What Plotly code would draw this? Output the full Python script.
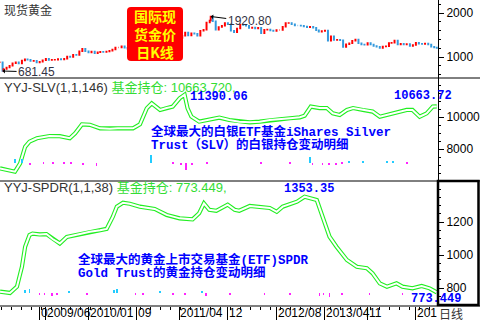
import plotly.graph_objects as go

# ---------------- data ----------------
gold_dates = ["2008-10-16","2008-10-27","2008-11-01","2008-11-16","2008-12-01","2008-12-16",
"2009-01-01","2009-01-16","2009-02-01","2009-02-16","2009-03-01","2009-03-16","2009-04-01","2009-04-16",
"2009-05-01","2009-05-16","2009-06-01","2009-06-16","2009-07-01","2009-07-16","2009-08-01","2009-08-16",
"2009-09-01","2009-09-16","2009-10-01","2009-10-16","2009-11-01","2009-11-16","2009-12-01","2009-12-16",
"2010-01-01","2010-01-16","2010-02-01","2010-02-16","2010-03-01","2010-03-16","2010-04-01","2010-04-16",
"2010-05-01","2010-05-16","2010-06-01","2010-06-16","2010-07-01","2010-07-16","2010-08-01","2010-08-16",
"2010-09-01","2010-09-16","2010-10-01","2010-10-16","2010-11-01","2010-11-16","2010-12-01","2010-12-16",
"2011-01-01","2011-01-16","2011-02-01","2011-02-16","2011-03-01","2011-03-16","2011-04-01","2011-04-16",
"2011-05-01","2011-05-16","2011-06-01","2011-06-16","2011-07-01","2011-07-16","2011-08-01","2011-08-16",
"2011-09-01","2011-09-06","2011-09-16","2011-10-01","2011-10-16","2011-11-01","2011-11-16","2011-12-01","2011-12-16",
"2012-01-01","2012-01-16","2012-02-01","2012-02-16","2012-03-01","2012-03-16","2012-04-01","2012-04-16",
"2012-05-01","2012-05-16","2012-06-01","2012-06-16","2012-07-01","2012-07-16","2012-08-01","2012-08-16",
"2012-09-01","2012-09-16","2012-10-01","2012-10-16","2012-11-01","2012-11-16","2012-12-01","2012-12-16",
"2013-01-01","2013-01-16","2013-02-01","2013-02-16","2013-03-01","2013-03-16","2013-04-01","2013-04-16",
"2013-05-01","2013-05-16","2013-06-01","2013-06-16","2013-07-01","2013-07-16","2013-08-01","2013-08-16",
"2013-09-01","2013-09-16","2013-10-01","2013-10-16","2013-11-01","2013-11-16","2013-12-01","2013-12-16",
"2014-01-01","2014-01-16","2014-02-01","2014-02-16","2014-03-01","2014-03-16","2014-04-01","2014-04-16",
"2014-05-01","2014-05-16","2014-06-01","2014-06-16","2014-07-01","2014-07-16","2014-08-01","2014-08-16",
"2014-09-01","2014-09-16","2014-10-01","2014-10-14"]
gold_close = [880,681.45,730,760,800,860,
880,850,920,950,935,910,915,875,
890,925,960,930,935,940,955,945,
960,1010,1000,1050,1045,1130,1190,1130,
1100,1125,1085,1110,1120,1115,1125,1140,
1170,1215,1215,1245,1210,1190,1180,1225,
1250,1275,1315,1370,1355,1340,1390,1375,
1420,1365,1340,1375,1435,1395,1430,1485,
1555,1490,1540,1530,1485,1595,1620,1785,
1830,1920.80,1810,1620,1680,1710,1775,1745,1595,
1565,1650,1740,1725,1710,1660,1670,1650,
1665,1540,1620,1625,1600,1590,1615,1615,
1690,1770,1775,1745,1715,1715,1710,1695,
1675,1685,1665,1610,1575,1590,1600,1370,
1470,1385,1390,1380,1230,1290,1310,1370,
1395,1315,1285,1280,1320,1285,1250,1235,
1205,1240,1245,1320,1325,1375,1285,1300,
1285,1295,1250,1275,1325,1300,1295,1305,
1285,1235,1215,1205]

slv_dates = ["2008-10-14","2008-11-23","2008-12-28","2009-01-23","2009-02-17","2009-03-11","2009-04-17",
"2009-06-20","2009-08-10","2009-09-29","2009-10-26","2009-11-29","2010-01-08","2010-02-28","2010-04-18",
"2010-05-27","2010-08-12","2010-09-16","2010-10-20","2010-11-14","2010-12-26","2011-01-28","2011-02-27",
"2011-04-03","2011-04-28","2011-05-13","2011-06-01","2011-07-10","2011-08-30","2011-10-19","2011-12-08",
"2012-01-27","2012-03-20","2012-05-08","2012-06-28","2012-08-17","2012-10-08","2012-11-26","2012-12-20",
"2013-01-20","2013-03-05","2013-04-10","2013-05-10","2013-06-14","2013-07-20","2013-08-20","2013-10-08",
"2013-11-26","2014-01-01","2014-02-06","2014-03-26","2014-05-16","2014-06-14","2014-07-20","2014-08-24",
"2014-09-24","2014-10-14"]
slv_vals = [6790,6700,6580,7100,8140,8460,8670,
8810,8800,8670,8980,9540,9510,9290,9260,
9290,9290,9540,10540,10850,10440,10560,10650,
11170,11390.06,10540,10020,9710,9850,9960,9810,
9710,9670,9710,9810,9850,9920,9980,10080,
10650,10560,10560,10230,10125,10440,10560,10440,
10340,10020,10125,10270,10440,10440,10020,10230,
10650,10663.72]

spdr_dates = ["2008-10-14","2008-12-03","2009-01-07","2009-02-01","2009-02-17","2009-03-11","2009-03-26",
"2009-05-01","2009-06-04","2009-07-05","2009-08-10","2009-09-14","2009-11-19","2010-01-08","2010-02-28",
"2010-04-02","2010-05-03","2010-05-23","2010-06-23","2010-07-27","2010-09-16","2010-11-29","2011-01-28",
"2011-04-03","2011-06-07","2011-07-10","2011-08-03","2011-08-30","2011-10-04","2011-11-30","2012-01-04",
"2012-01-27","2012-03-20","2012-05-08","2012-06-28","2012-08-02","2012-09-01","2012-11-12","2012-12-20",
"2013-02-19","2013-03-20","2013-04-24","2013-05-29","2013-07-20","2013-09-08","2013-10-28","2013-11-26",
"2014-01-01","2014-02-06","2014-03-26","2014-04-25","2014-06-14","2014-07-30","2014-09-08","2014-10-14"]
spdr_vals = [778,770,808,929,1050,1121,1130,
1125,1127,1097,1070,1109,1127,1141,1150,
1158,1232,1293,1317,1311,1293,1279,1243,
1222,1216,1253,1313,1274,1268,1305,1274,
1268,1297,1290,1285,1262,1293,1323,1353.35,
1333,1232,1111,1050,970,929,920,889,
828,808,828,808,798,812,798,773.449]

slv_chg_dates = ["2008-12-28","2009-02-01","2009-03-15","2009-05-20","2009-07-05","2009-09-01","2009-10-05",
"2009-12-05","2010-02-10","2010-11-12","2011-02-27","2011-04-10","2011-05-05","2011-06-05","2011-08-20",
"2012-05-15","2012-10-08","2013-01-15","2013-01-28","2013-03-20","2013-04-20","2013-05-25","2013-06-25",
"2013-07-30","2013-10-08","2014-02-06","2014-03-10","2014-05-16"]
slv_chg = [150,120,-90,-60,-60,-60,-60,
-80,-120,300,-60,-80,-280,-90,-60,
-60,-60,200,-80,-80,-100,-80,-60,
60,60,60,60,-60]

spdr_chg_dates = ["2009-02-17","2009-03-11","2009-04-30","2009-05-25","2009-06-30","2009-07-25","2009-09-25",
"2009-12-25","2010-05-08","2010-05-23","2010-08-25","2010-09-30","2010-12-26","2011-03-01","2011-04-28",
"2011-07-25","2011-08-15","2011-12-10","2012-06-02","2012-10-08","2013-03-05","2013-03-25","2013-04-24",
"2013-06-25","2013-11-10","2014-04-25"]
spdr_chg = [15,20,-10,-10,-15,-10,10,
-10,15,20,-10,-10,10,-10,-10,
10,-15,-10,-10,-10,-15,-10,-20,
-10,-10,-10]

x_tick_dates = ["2009-05-01","2009-06-01","2010-01-01","2010-09-01","2011-04-01","2011-12-01",
                "2012-08-01","2013-04-01","2013-11-01","2014-07-01"]
x_tick_text = ["0","2009/06","2010/01","09","2011/04","12","2012/08","2013/04","11","201"]
gold_ticks = [1000, 2000]
slv_ticks = [8000, 10000]
spdr_ticks = [800, 1000, 1200]

# ---------------- derived OHLC ----------------
gold_open = [gold_close[0]] + gold_close[:-1]
gold_high = [max(o, c) for o, c in zip(gold_open, gold_close)]
gold_low = [min(o, c) for o, c in zip(gold_open, gold_close)]

# ---------------- layout helpers ----------------
W, H = 480, 320
MR, MB = 42, 14
PW, PH = W - MR, H - MB
def px(x): return x / PW
def py(y): return (PH - y) / PH
DAY = 86400000

SANS = "Liberation Sans, Arial, Noto Sans CJK SC, sans-serif"
CJK = "Noto Sans CJK SC, sans-serif"
MONO = "Liberation Mono, Noto Sans CJK SC, monospace"
BLUE = "#0000ff"
GREEN_L = "#22ee22"
GREEN_T = "#33dd33"
GRAY = "#333333"

fig = go.Figure()
fig.add_trace(go.Candlestick(
    x=gold_dates, open=gold_open, high=gold_high, low=gold_low, close=gold_close,
    xaxis="x", yaxis="y", whiskerwidth=0,
    increasing=dict(line=dict(color="#ff0000", width=1.5), fillcolor="#ff0000"),
    decreasing=dict(line=dict(color="#3399dd", width=1.5), fillcolor="#3399dd"),
    hoverinfo="skip"))

for xs, ys, ya in [(slv_dates, slv_vals, "y2"), (spdr_dates, spdr_vals, "y3")]:
    fig.add_trace(go.Scatter(x=xs, y=ys, xaxis="x", yaxis=ya, mode="lines",
                             line=dict(color=GREEN_L, width=4.2), hoverinfo="skip"))
    fig.add_trace(go.Scatter(x=xs, y=ys, xaxis="x", yaxis=ya, mode="lines",
                             line=dict(color="white", width=2), hoverinfo="skip"))

for xs, ys, ya in [(slv_chg_dates, slv_chg, "y4"), (spdr_chg_dates, spdr_chg, "y5")]:
    fig.add_trace(go.Bar(x=xs, y=ys, xaxis="x", yaxis=ya, width=[4 * DAY] * len(xs),
                         marker=dict(color=["#22ccff" if v > 0 else "#ff22ff" for v in ys],
                                     line=dict(width=0)), hoverinfo="skip"))

yax = dict(side="right", anchor="x", showgrid=False, zeroline=False, showline=True,
           linecolor="black", linewidth=1, ticks="outside", ticklen=5, tickcolor="black",
           tickfont=dict(family=SANS, size=12, color="black"), tickmode="array")

fig.update_layout(
    width=W, height=H, margin=dict(l=0, r=MR, t=0, b=MB),
    paper_bgcolor="white", plot_bgcolor="white", showlegend=False, bargap=0,
    xaxis=dict(domain=[0, 1], anchor="y3", type="date", range=["2008-10-14", "2014-10-20"],
               showgrid=False, zeroline=False, showline=False, showticklabels=False,
               tickmode="array", tickvals=x_tick_dates, ticks="outside", ticklen=14,
               tickcolor="black", tickwidth=1,
               minor=dict(ticks="outside", ticklen=3, tickcolor="black", tickmode="linear",
                          tick0="2008-10-20", dtick=50 * DAY),
               rangeslider=dict(visible=False)),
    yaxis=dict(yax, domain=[py(78), 1], range=[522.7, 2295.5], tickvals=gold_ticks,
               ticktext=[str(v) for v in gold_ticks],
               minor=dict(ticks="outside", ticklen=2, tickcolor="black", dtick=200)),
    yaxis2=dict(yax, domain=[py(181), py(78)], range=[6000, 12437.5], tickvals=slv_ticks,
                ticktext=[str(v) for v in slv_ticks],
                minor=dict(ticks="outside", ticklen=2, tickcolor="black", dtick=500)),
    yaxis3=dict(yax, domain=[0, py(181)], range=[690.9, 1448.5], tickvals=spdr_ticks,
                ticktext=[str(v) for v in spdr_ticks],
                minor=dict(ticks="outside", ticklen=2, tickcolor="black", dtick=50)),
    yaxis4=dict(overlaying="y2", anchor="x", range=[-694, 3169], visible=False),
    yaxis5=dict(overlaying="y3", anchor="x", range=[-65, 560], visible=False),
)

# separators, frame, red label box
r = 4
x0, x1, y0, y1 = 127, 183, 7, 61
box_path = (f"M {px(x0+r)} {py(y0)} L {px(x1-r)} {py(y0)} Q {px(x1)} {py(y0)} {px(x1)} {py(y0+r)} "
            f"L {px(x1)} {py(y1-r)} Q {px(x1)} {py(y1)} {px(x1-r)} {py(y1)} "
            f"L {px(x0+r)} {py(y1)} Q {px(x0)} {py(y1)} {px(x0)} {py(y1-r)} "
            f"L {px(x0)} {py(y0+r)} Q {px(x0)} {py(y0)} {px(x0+r)} {py(y0)} Z")
shapes = [
    dict(type="line", xref="paper", yref="paper", x0=0, x1=px(480), y0=py(78), y1=py(78),
         line=dict(color="black", width=1)),
    dict(type="line", xref="paper", yref="paper", x0=0, x1=px(480), y0=py(181), y1=py(181),
         line=dict(color="black", width=1)),
    dict(type="line", xref="paper", yref="paper", x0=0, x1=px(480), y0=py(306), y1=py(306),
         line=dict(color="black", width=1)),
    dict(type="rect", xref="paper", yref="paper", x0=px(438), x1=px(478.5), y0=py(305), y1=py(181),
         line=dict(color="black", width=2.5)),
    dict(type="path", xref="paper", yref="paper", path=box_path, fillcolor="#ff0000",
         line=dict(color="#ff0000", width=0), layer="above"),
]
fig.update_layout(shapes=shapes)

ann = []
def txt(x, y, s, font, xanchor="left", **kw):
    ann.append(dict(x=px(x), y=py(y), xref="paper", yref="paper", text=s, showarrow=False,
                    xanchor=xanchor, yanchor="middle", font=font, **kw))

txt(2, 9, "现货黄金", dict(family=CJK, size=12, color=GRAY))
txt(2, 87, f"YYJ-SLV(1,1,146) <span style='color:{GREEN_T}'>基金持仓: {slv_vals[-1]:.3f},</span>",
    dict(family=SANS, size=13, color=GRAY))
txt(2, 187, f"YYJ-SPDR(1,1,38) <span style='color:{GREEN_T}'>基金持仓: {spdr_vals[-1]:.3f},</span>",
    dict(family=SANS, size=13, color=GRAY))
txt(155, 34, "<b>国际现<br>货金价<br>日K线</b>", dict(family=CJK, size=14, color="#ffff00"),
    xanchor="center", borderpad=0)

bf = dict(family=MONO, size=12.5, color=BLUE)
txt(150, 132, "<b>全球最大的白银ETF基金iShares Silver</b>", bf, borderpad=0)
txt(150, 144.5, "<b>Trust（SLV）的白银持仓变动明细</b>", bf, borderpad=0)
txt(77, 260.3, "<b>全球最大的黄金上市交易基金(ETF)SPDR</b>", bf, borderpad=0)
txt(77, 272.8, "<b>Gold Trust的黄金持仓变动明细</b>", bf, borderpad=0)
txt(451, 313, "日线", dict(family=CJK, size=12, color=GRAY), xanchor="center", borderpad=0)

for d, s in zip(x_tick_dates, x_tick_text):
    ann.append(dict(x=d, y=py(312.5), xref="x", yref="paper", text=s, showarrow=False,
                    xanchor="left", yanchor="middle", borderpad=0,
                    font=dict(family=SANS, size=12, color="black")))

# extreme value labels
gmin = min(range(len(gold_close)), key=lambda i: gold_close[i])
gmax = max(range(len(gold_close)), key=lambda i: gold_close[i])
af = dict(family=SANS, size=12, color="#333344")
ann.append(dict(x=gold_dates[gmin], y=gold_close[gmin], xref="x", yref="y",
                text=f"{gold_close[gmin]:.2f}", showarrow=True, arrowhead=1, arrowsize=0.8,
                arrowwidth=1, arrowcolor="black", ax=34, ay=1, font=af))
ann.append(dict(x=gold_dates[gmax], y=gold_close[gmax], xref="x", yref="y",
                text=f"{gold_close[gmax]:.2f}", showarrow=True, arrowhead=1, arrowsize=0.8,
                arrowwidth=1, arrowcolor="black", ax=39, ay=5, font=af))

nf = dict(family=MONO, size=12, color=BLUE)
smax = max(range(len(slv_vals)), key=lambda i: slv_vals[i])
ann.append(dict(x=slv_dates[smax], y=slv_vals[smax], xref="x", yref="y2", text=f"<b>{slv_vals[smax]:.2f}</b>",
                showarrow=False, xanchor="left", yanchor="middle", xshift=4, yshift=-2, font=nf, borderpad=0))
ann.append(dict(x=slv_dates[-1], y=slv_vals[-1], xref="x", yref="y2", text=f"<b>{slv_vals[-1]:.2f}</b>",
                showarrow=False, xanchor="right", yanchor="middle", xshift=16, yshift=10, font=nf, borderpad=0))
pmax = max(range(len(spdr_vals)), key=lambda i: spdr_vals[i])
ann.append(dict(x=spdr_dates[pmax], y=spdr_vals[pmax], xref="x", yref="y3", text=f"<b>{spdr_vals[pmax]:.2f}</b>",
                showarrow=False, xanchor="center", yanchor="middle", xshift=4, yshift=8, font=nf, borderpad=0))
ann.append(dict(x=spdr_dates[-1], y=spdr_vals[-1], xref="x", yref="y3", text=f"<b>{spdr_vals[-1]:.3f}</b>",
                showarrow=False, xanchor="right", yanchor="middle", xshift=25, yshift=-7, font=nf, borderpad=0))

fig.update_layout(annotations=ann)
fig.write_html("out.html")
